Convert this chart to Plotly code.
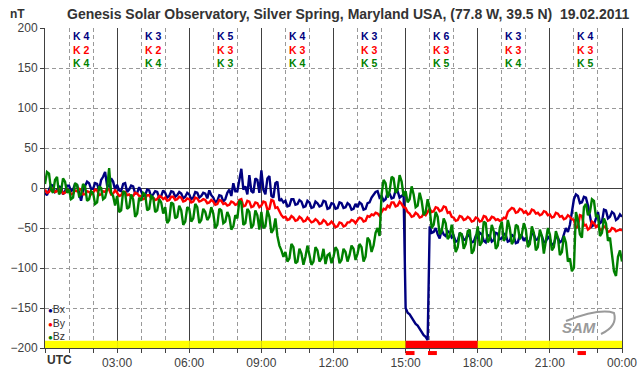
import plotly.graph_objects as go

# ---------------- data ----------------
# 5-minute samples from 00:00 to 24:00 UTC (hours)
minutes = list(range(0, 1441, 5))
hours = [m / 60 for m in minutes]

bx = [
    -6, -9, -2, 4, 3, -5, -3, 2, 1, -8, -4, 3,
    3, -4, -2, 5, 4, -6, -16, -3, 2, 8, 6, -1,
    -1, 6, 5, -3, 10, 14, 20, 3, 2, 12, 8, -2,
    4, -3, -4, 5, 6, -5, -2, 3, 2, -7, -6, 1,
    -4, -10, -9, -2, -3, -11, -8, -4, -5, -12, -10, -3,
    -6, -12, -10, -4, -5, -11, -9, -5, -7, -13, -11, -6,
    -8, -14, -12, -5, -6, -12, -10, -6, -7, -13, -3, -9,
    -12, -18, -16, -9, -10, -17, -14, -6, -2, -10, 6, -4,
    -4, 10, 24, -2, 2, -8, 16, -4, -6, 12, 10, -6,
    22, -2, -8, 12, 15, -10, -12, 6, 8, -16, -14, -18,
    -16, -23, -22, -14, -14, -21, -20, -15, -17, -24, -23, -16,
    -18, -25, -24, -17, -19, -23, -22, -16, -17, -26, -25, -19,
    -20, -26, -25, -18, -19, -25, -24, -19, -21, -27, -26, -20,
    -24, -18, -20, -27, -26, -19, -18, -12, -8, -5, -4, -12,
    -10, -16, -14, -6, -7, -13, -12, -3, -4, -12, -10, -8,
    -150, -156, -158, -162, -165, -170, -172, -176, -180, -184, -186, -190,
    -48, -56, -55, -50, -58, -63, -52, -58, -60, -54, -56, -62,
    -60, -67, -66, -57, -58, -65, -64, -58, -61, -68, -67, -60,
    -62, -56, -58, -66, -68, -59, -60, -67, -65, -56, -57, -64,
    -63, -57, -59, -67, -66, -58, -61, -69, -68, -59, -60, -66,
    -62, -68, -66, -57, -58, -65, -64, -57, -60, -68, -67, -61,
    -64, -71, -70, -61, -62, -68, -66, -58, -50, -55, -46, -30,
    -14, -8, -10, -19, -18, -11, -12, -22, -36, -48, -46, -38,
    -30, -44, -42, -27, -28, -38, -36, -30, -32, -40, -38, -33,
    -36,
]

by = [
    -2, -6, -5, -1, -1, -5, -4, -1, -2, -7, -6, -2,
    -3, -8, -7, -3, -4, -1, -2, -8, -8, -4, -5, -8,
    -6, -2, -3, -9, -8, -4, -5, -1, -2, -8, -7, -3,
    -6, -10, -9, -5, -5, -9, -8, -11, -10, -6, -7, -10,
    -10, -14, -13, -9, -9, -13, -12, -15, -14, -10, -11, -14,
    -12, -16, -15, -11, -11, -15, -14, -11, -12, -17, -16, -13,
    -14, -18, -17, -12, -13, -17, -16, -14, -15, -19, -18, -15,
    -17, -21, -20, -15, -16, -20, -19, -22, -21, -17, -18, -21,
    -20, -15, -14, -23, -22, -16, -17, -24, -23, -18, -19, -24,
    -22, -17, -18, -27, -26, -15, -16, -25, -24, -30, -34, -37,
    -36, -40, -39, -35, -37, -41, -40, -36, -38, -42, -41, -37,
    -40, -43, -42, -39, -41, -45, -44, -40, -42, -46, -45, -42,
    -45, -49, -48, -43, -44, -48, -47, -43, -43, -40, -41, -44,
    -40, -37, -38, -42, -41, -35, -36, -33, -34, -31, -32, -35,
    -30, -26, -27, -22, -24, -18, -18, -23, -22, -17, -20, -24,
    -25, -30, -32, -36, -35, -31, -33, -37, -36, -32, -34, -30,
    -26, -30, -29, -24, -25, -29, -28, -23, -24, -31, -30, -36,
    -37, -41, -40, -35, -36, -40, -39, -36, -38, -42, -41, -37,
    -38, -42, -41, -35, -36, -41, -40, -36, -37, -40, -39, -41,
    -40, -37, -38, -30, -28, -25, -26, -31, -30, -26, -27, -31,
    -29, -33, -32, -27, -28, -32, -31, -34, -33, -29, -30, -34,
    -33, -37, -36, -31, -32, -36, -35, -39, -38, -34, -36, -39,
    -40, -50, -48, -34, -35, -47, -46, -52, -50, -42, -44, -49,
    -46, -53, -52, -48, -50, -55, -54, -50, -51, -54, -53, -52,
    -53,
]

bz = [
    5, 20, 18, -2, -6, 10, 14, -8, -4, 12, 8, -6,
    -2, -14, -12, 6, 4, -10, -8, 5, 2, -16, -14, -4,
    -6, -20, -18, 2, 0, -14, -12, -2, 25, -6, -10, -22,
    -10, -30, -28, -4, -6, -26, -24, -8, -14, -36, -32, -12,
    -16, -6, -8, -28, -26, -10, -12, -30, -28, -14, -18, -32,
    -24, -44, -40, -18, -20, -38, -36, -22, -28, -46, -42, -24,
    -26, -42, -38, -20, -24, -44, -40, -26, -30, -40, -36, -24,
    -32, -50, -46, -26, -28, -44, -42, -30, -36, -52, -48, -34,
    -38, -16, -18, -46, -44, -26, -30, -50, -46, -28, -34, -52,
    -30, -50, -48, -28, -36, -56, -52, -38, -60, -72, -78, -86,
    -80, -92, -88, -70, -74, -94, -92, -76, -82, -96, -86, -72,
    -84, -96, -92, -74, -78, -92, -88, -76, -95, -84, -82, -94,
    -86, -74, -78, -94, -90, -76, -80, -92, -84, -72, -76, -90,
    -82, -70, -74, -92, -86, -62, -66, -80, -72, -56, -50, -60,
    -8, 10, 6, -12, -4, 14, 12, -6, -2, 16, 8, -10,
    -4, -18, -14, 2, -8, -24, -22, -6, -16, -34, -30, -14,
    -26, -50, -46, -30, -36, -58, -54, -38, -44, -64, -60, -46,
    -62, -80, -74, -56, -58, -76, -70, -54, -52, -82, -78, -60,
    -48, -72, -68, -42, -44, -68, -64, -46, -54, -76, -72, -50,
    -42, -66, -62, -40, -50, -70, -66, -46, -48, -64, -58, -44,
    -52, -74, -70, -48, -56, -78, -74, -52, -60, -82, -66, -50,
    -58, -78, -74, -54, -62, -84, -80, -60, -68, -92, -88, -104,
    -100, -30, -40, -58, -62, -24, -20, -34, -30, -14, -16, -36,
    -34, -60, -56, -38, -44, -66, -62, -80, -104, -110, -86, -78,
    -92,
]

series_names = ["Bx", "By", "Bz"]
series_colors = ["#000080", "#ff0000", "#008000"]

# K indices per 3-hour interval
period_centers = [1.5, 4.5, 7.5, 10.5, 13.5, 16.5, 19.5, 22.5]
k_bx = [4, 3, 5, 4, 3, 6, 3, 4]
k_by = [2, 2, 3, 3, 3, 3, 3, 3]
k_bz = [4, 4, 3, 4, 5, 5, 4, 5]

# status bar per 3-hour interval (quiet / storm)
period_status = ["quiet", "quiet", "quiet", "quiet", "quiet", "storm", "quiet", "quiet"]
# alert markers below the axis: (start hour, end hour)
alerts = [(15.0, 15.37), (15.93, 16.3), (22.15, 22.5)]

x_tickvals = [0, 3, 6, 9, 12, 15, 18, 21, 24]
x_ticktext = ["", "03:00", "06:00", "09:00", "12:00", "15:00", "18:00", "21:00", "00:00"]
y_tickvals = [-200, -150, -100, -50, 0, 50, 100, 150, 200]

title_text = "Genesis Solar Observatory, Silver Spring, Maryland USA, (77.8 W, 39.5 N) \u00a019.02.2011"

assert len(bx) == len(by) == len(bz) == len(hours), (len(bx), len(by), len(bz), len(hours))

# ---------------- figure ----------------
FONT = "Liberation Sans, Arial, sans-serif"
fig = go.Figure()

status_color = {"quiet": "#ffff00", "storm": "#ff0000"}
fig.add_trace(go.Bar(
    x=period_centers, y=[9] * len(period_centers), base=[-200] * len(period_centers),
    width=[3] * len(period_centers),
    marker=dict(color=[status_color[s] for s in period_status], line=dict(width=0)),
    showlegend=False, hoverinfo="skip",
))

for name, vals, col in zip(series_names, [bx, by, bz], series_colors):
    fig.add_trace(go.Scatter(
        x=hours, y=vals, mode="lines", name=name,
        line=dict(color=col, width=2.4), showlegend=False,
    ))

annotations = []
annotations.append(dict(
    text="<b>" + title_text + "</b>", xref="paper", yref="paper",
    x=0.526, y=1.044, xanchor="center", yanchor="middle", showarrow=False,
    font=dict(family=FONT, size=14, color="#333333"),
))
annotations.append(dict(
    text="<b>nT</b>", xref="paper", yref="paper",
    x=-0.047, y=1.044, xanchor="center", yanchor="middle", showarrow=False,
    font=dict(family=FONT, size=12, color="#333333"),
))
for i, xc in enumerate(period_centers):
    lines = []
    for ks, col in zip([k_bx, k_by, k_bz], series_colors):
        lines.append('<span style="color:%s">K %d</span>' % (col, ks[i]))
    annotations.append(dict(
        text="<b>" + "<br>".join(lines) + "</b>", xref="x", yref="paper",
        x=xc, y=(348 - 49.5) / 320, xanchor="center", yanchor="middle",
        showarrow=False, borderpad=0,
        font=dict(family=FONT, size=10.5, color="#000080"),
    ))
annotations.append(dict(
    text="<b>UTC</b>", xref="x", yref="paper", x=0, y=-0.0375,
    xanchor="left", yanchor="middle", showarrow=False,
    font=dict(family=FONT, size=12, color="#333333"),
))
legend_lines = ['<span style="color:%s;font-size:8px">\u25CF</span>%s' % (c, n)
                for n, c in zip(series_names, series_colors)]
annotations.append(dict(
    text="<br>".join(legend_lines), xref="paper", yref="paper",
    x=0.004, y=(348 - 322.5) / 320, xanchor="left", yanchor="middle",
    align="left", showarrow=False, borderpad=0,
    font=dict(family=FONT, size=10.5, color="#333333"),
))
annotations.append(dict(
    text="<b><i>SAM</i></b>", xref="paper", yref="paper",
    x=(579 - 45) / 577, y=(348 - 327.5) / 320, xanchor="center", yanchor="middle",
    showarrow=False, font=dict(family=FONT, size=15, color="#9a9a9a"),
))

shapes = []
for a0, a1 in alerts:
    shapes.append(dict(type="rect", xref="x", yref="paper", x0=a0, x1=a1,
                       y0=-0.0095, y1=-0.022, fillcolor="#ff0000",
                       line=dict(width=0), layer="above"))


def px(xp, yp):
    return "%f,%f" % ((xp - 45) / 577, (348 - yp) / 320)


shapes.append(dict(
    type="path", xref="paper", yref="paper",
    path="M %s Q %s %s Q %s %s" % (px(566, 321), px(600, 308), px(614, 313), px(618, 326), px(601, 334)),
    line=dict(color="#9a9a9a", width=2),
))

fig.update_layout(
    width=642, height=376,
    margin=dict(l=45, r=20, t=28, b=28, autoexpand=False),
    paper_bgcolor="white", plot_bgcolor="white",
    showlegend=False,
    annotations=annotations, shapes=shapes,
    font=dict(family=FONT, size=12, color="#404040"),
)
fig.update_xaxes(
    range=[0, 24], tickmode="array", tickvals=x_tickvals, ticktext=x_ticktext,
    showgrid=True, gridcolor="#404040", gridwidth=1,
    ticks="outside", ticklen=4, tickcolor="#404040",
    showline=True, linecolor="#404040", linewidth=1,
    tickfont=dict(family=FONT, size=12, color="#404040"),
    minor=dict(tickmode="linear", tick0=0, dtick=1, showgrid=True,
               gridcolor="#999999", griddash="4px,3px", gridwidth=1,
               ticks="outside", ticklen=4, tickcolor="#404040"),
    zeroline=False, fixedrange=True, automargin=False,
)
fig.update_yaxes(
    range=[-200, 200], tickmode="array", tickvals=y_tickvals,
    showgrid=False,
    ticks="outside", ticklen=4, tickcolor="#404040",
    showline=True, linecolor="#404040", linewidth=1, mirror=True,
    tickfont=dict(family=FONT, size=12, color="#404040"),
    minor=dict(tickmode="array", tickvals=[-150, -100, -50, 50, 100, 150],
               showgrid=True, gridcolor="#999999", griddash="4px,3px", gridwidth=1),
    zeroline=True, zerolinecolor="#404040", zerolinewidth=1, fixedrange=True,
    automargin=False,
)

fig.write_html(
    "out.html",
    config={"displayModeBar": False},
    post_script="document.body.style.margin='0';document.body.style.padding='0';",
)
